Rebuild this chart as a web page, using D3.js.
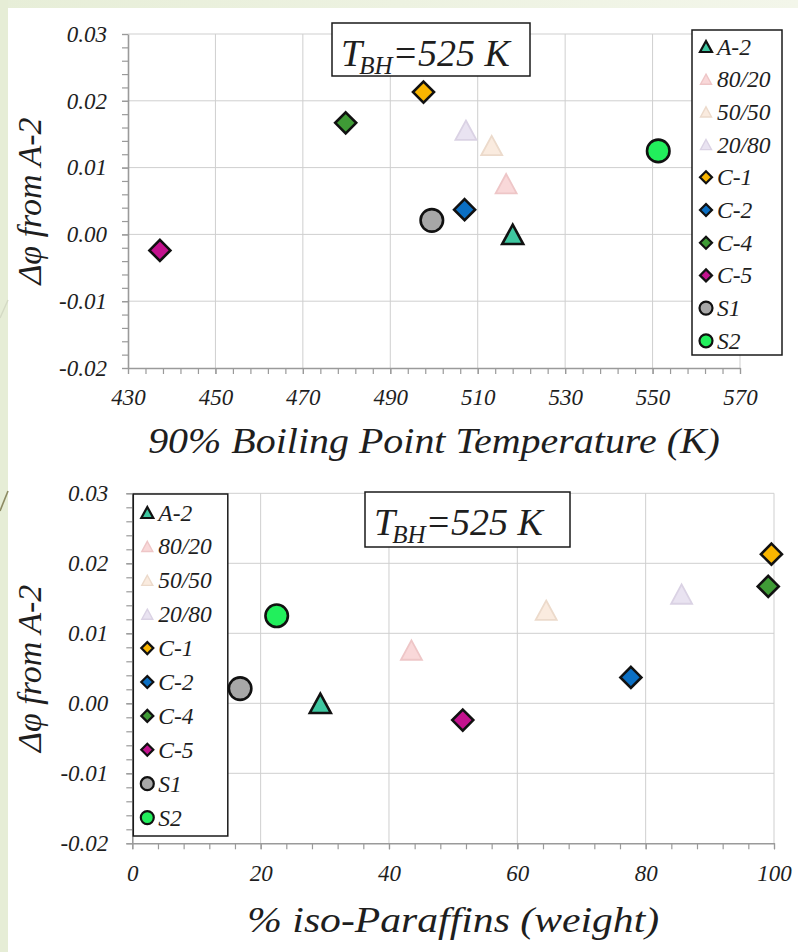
<!DOCTYPE html>
<html>
<head>
<meta charset="utf-8">
<script src="https://cdn.jsdelivr.net/npm/d3@7"></script>
<style>
  html, body { margin: 0; padding: 0; background: #ffffff; }
  svg { display: block; }
</style>
</head>
<body>
<svg id="fig" width="798" height="952"></svg>
<script>
// Fuel samples and their shift in equivalence ratio relative to A-2
const series = ["A-2", "80/20", "50/50", "20/80", "C-1", "C-2", "C-4", "C-5", "S1", "S2"];
const boilingT90 = [518, 516.5, 513.2, 507.3, 497.6, 507, 479.8, 437.3, 499.5, 551.3];   // K
const isoParaffins = [29.3, 43.5, 64.5, 85.6, 99.6, 77.7, 99.1, 51.5, 16.8, 22.5];       // % weight
const deltaPhi = [0.0, 0.0076, 0.0133, 0.0156, 0.0213, 0.0037, 0.0167, -0.0024, 0.0021, 0.0125];

const yTicks = [-0.02, -0.01, 0.00, 0.01, 0.02, 0.03];
const xTicksBoiling = [430, 450, 470, 490, 510, 530, 550, 570];
const xTicksIso = [0, 20, 40, 60, 80, 100];

const titleMain = "T", titleSub = "BH", titleRest = "=525 K";
const yTitle = "Δφ from A-2";
const xTitleBoiling = "90% Boiling Point Temperature (K)";
const xTitleIso = "% iso-Paraffins (weight)";

// Marker appearance per sample
const markerStyle = {
  "A-2":   { shape: "triangle", fill: "#3ec7a0", stroke: "#111111", faded: false },
  "80/20": { shape: "triangle", fill: "#f9d8d9", stroke: "#eec6c7", faded: true },
  "50/50": { shape: "triangle", fill: "#faebdf", stroke: "#ecdacb", faded: true },
  "20/80": { shape: "triangle", fill: "#e9e3f1", stroke: "#dad2e4", faded: true },
  "C-1":   { shape: "diamond",  fill: "#f9b500", stroke: "#111111", faded: false },
  "C-2":   { shape: "diamond",  fill: "#0b6fc3", stroke: "#111111", faded: false },
  "C-4":   { shape: "diamond",  fill: "#3f9b36", stroke: "#111111", faded: false },
  "C-5":   { shape: "diamond",  fill: "#c3128e", stroke: "#111111", faded: false },
  "S1":    { shape: "circle",   fill: "#a7a7a7", stroke: "#111111", faded: false },
  "S2":    { shape: "circle",   fill: "#22ef5c", stroke: "#111111", faded: false }
};

// Symbol types sized by their bounding width (size = width²), centred on the bounding box
const symTriangle = { draw(ctx, size) { const w = Math.sqrt(size), h = 0.92 * w;
  ctx.moveTo(0, -h / 2); ctx.lineTo(w / 2, h / 2); ctx.lineTo(-w / 2, h / 2); ctx.closePath(); } };
const symDiamond = { draw(ctx, size) { const s = Math.sqrt(size) / 2;
  ctx.moveTo(0, -s); ctx.lineTo(s, 0); ctx.lineTo(0, s); ctx.lineTo(-s, 0); ctx.closePath(); } };
const symCircle = { draw(ctx, size) { const r = Math.sqrt(size) / 2;
  ctx.moveTo(r, 0); ctx.arc(0, 0, r, 0, 2 * Math.PI); } };
const symbolTypes = { triangle: symTriangle, diamond: symDiamond, circle: symCircle };

// Italic serif text styling
function serif(sel, size) {
  return sel.style("font-family", '"Liberation Serif"')
     .style("font-style", "italic")
     .style("font-size", size + "px")
     .attr("fill", "#1e1e1e");
}

const svg = d3.select("#fig");

// Page backdrop: pale green border strips
const defs = svg.append("defs");
const grad = defs.append("linearGradient").attr("id", "topStrip").attr("x1", 0).attr("x2", 1).attr("y1", 0).attr("y2", 0);
grad.append("stop").attr("offset", "0%").attr("stop-color", "#e7eed8");
grad.append("stop").attr("offset", "100%").attr("stop-color", "#f3f6ea");
svg.append("rect").attr("x", 0).attr("y", 0).attr("width", 798).attr("height", 952).attr("fill", "#ffffff");
svg.append("rect").attr("x", 0).attr("y", 0).attr("width", 798).attr("height", 8).attr("fill", "url(#topStrip)");
svg.append("rect").attr("x", 0).attr("y", 0).attr("width", 8).attr("height", 952).attr("fill", "#e6edd6");
svg.append("line").attr("x1", 0).attr("y1", 511).attr("x2", 8).attr("y2", 491)
  .attr("stroke", "#8c8a62").attr("stroke-width", 1.6);
svg.append("line").attr("x1", 0).attr("y1", 318).attr("x2", 8).attr("y2", 300)
  .attr("stroke", "#d4dac4").attr("stroke-width", 1.4);

const fmtY = d => d3.format(".2f")(d).replace("−", "-");

function drawPanel(cfg) {
  const g = svg.append("g");
  const x = d3.scaleLinear().domain(cfg.xDomain).range([cfg.left, cfg.right]);
  const y = d3.scaleLinear().domain([-0.02, 0.03]).range([cfg.bottom, cfg.top]);

  // grid
  g.append("g").selectAll("line").data(cfg.xTicks.slice(1)).join("line")
    .attr("x1", d => x(d)).attr("x2", d => x(d)).attr("y1", cfg.top).attr("y2", cfg.bottom)
    .attr("stroke", "#cfcfcf").attr("stroke-width", 1);
  g.append("g").selectAll("line").data(yTicks.slice(1)).join("line")
    .attr("x1", cfg.left).attr("x2", cfg.right).attr("y1", d => y(d)).attr("y2", d => y(d))
    .attr("stroke", "#cfcfcf").attr("stroke-width", 1);

  // minor ticks
  const xMinor = d3.range(cfg.xDomain[0], cfg.xDomain[1] + 1e-9, cfg.xMinorStep);
  const yMinor = d3.range(-0.02, 0.0300001, 0.002);
  g.append("g").attr("transform", `translate(0,${cfg.bottom})`)
    .call(d3.axisBottom(x).tickValues(xMinor).tickSize(6).tickSizeOuter(0).tickFormat(""))
    .call(s => s.selectAll("line").attr("stroke", "#9a9a9a").attr("stroke-width", 1.2))
    .call(s => s.select(".domain").remove());
  g.append("g").attr("transform", `translate(${cfg.left},0)`)
    .call(d3.axisLeft(y).tickValues(yMinor).tickSize(6).tickSizeOuter(0).tickFormat(""))
    .call(s => s.selectAll("line").attr("stroke", "#9a9a9a").attr("stroke-width", 1.2))
    .call(s => s.select(".domain").remove());

  // major axes
  const xa = g.append("g").attr("transform", `translate(0,${cfg.bottom})`)
    .call(d3.axisBottom(x).tickValues(cfg.xTicks).tickSize(6).tickSizeOuter(0).tickPadding(15)
      .tickFormat(d3.format("d")));
  const ya = g.append("g").attr("transform", `translate(${cfg.left},0)`)
    .call(d3.axisLeft(y).tickValues(yTicks).tickSize(6).tickSizeOuter(0).tickPadding(cfg.yPad)
      .tickFormat(fmtY));
  [xa, ya].forEach(a => {
    a.attr("font-family", null).attr("font-size", null);
    a.select(".domain").attr("stroke", "#9a9a9a").attr("stroke-width", 1.6);
    a.selectAll(".tick line").attr("stroke", "#9a9a9a").attr("stroke-width", 1.2);
    serif(a.selectAll(".tick text"), 23);
  });

  // axis titles (x title stretched horizontally to its span)
  const xt = serif(g.append("text"), 35).attr("x", 0).attr("y", 0)
    .attr("text-anchor", "middle").text(cfg.xTitle);
  const natural = xt.node().getComputedTextLength();
  xt.attr("transform", `translate(${(cfg.left + cfg.right) / 2},${cfg.xTitleY}) scale(${cfg.xTitleWidth / natural},1)`);
  serif(g.append("text"), 34)
    .attr("transform", `translate(41,${(cfg.top + cfg.bottom) / 2}) rotate(-90)`)
    .attr("text-anchor", "middle")
    .text(yTitle);

  // title box
  const tb = g.append("g");
  tb.append("rect").attr("x", cfg.box[0]).attr("y", cfg.box[1]).attr("width", cfg.box[2]).attr("height", cfg.box[3])
    .attr("fill", "#ffffff").attr("stroke", "#1a1a1a").attr("stroke-width", 1.5);
  const tt = serif(tb.append("text"), 38).attr("x", cfg.box[0] + 9).attr("y", cfg.box[1] + 42.5);
  tt.append("tspan").style("font-size", "38px").text(titleMain);
  tt.append("tspan").style("font-size", "25px").attr("dy", 8).attr("dx", -3).text(titleSub);
  tt.append("tspan").style("font-size", "38px").attr("dy", -8).text(titleRest);

  function drawLegend() {
    const L = cfg.legend;
    const lg = g.append("g");
    lg.append("rect").attr("x", L.x).attr("y", L.y).attr("width", L.w).attr("height", L.h)
      .attr("fill", "#ffffff").attr("stroke", "#1a1a1a").attr("stroke-width", 1.5);
    series.forEach((name, i) => {
      const st = markerStyle[name];
      const cy = L.firstRow + i * L.rowStep;
      const w = st.shape === "circle" ? 13 : (st.faded ? 11 : 12);
      lg.append("path")
        .attr("d", d3.symbol().type(symbolTypes[st.shape]).size(w * w)())
        .attr("transform", `translate(${L.x + 14},${cy})`)
        .attr("fill", st.fill).attr("stroke", st.stroke).attr("stroke-width", st.faded ? 1.4 : 2.2);
      serif(lg.append("text"), 23.5).attr("x", L.x + 25).attr("y", cy + 8).text(name);
    });
  }
  if (cfg.legendFirst) drawLegend();

  // data points; faded triangles sit underneath the solid markers
  const pts = series.map((name, i) => ({ name, xv: cfg.xValues[i], yv: deltaPhi[i] }));
  const order = [1, 2, 3, 0, 4, 5, 6, 7, 8, 9];
  g.append("g").selectAll("path").data(order.map(i => pts[i])).join("path")
    .attr("d", d => {
      const st = markerStyle[d.name];
      const w = st.shape === "circle" ? 22.5 : 21;
      return d3.symbol().type(symbolTypes[st.shape]).size(w * w)();
    })
    .attr("transform", d => `translate(${x(d.xv)},${y(d.yv)})`)
    .attr("fill", d => markerStyle[d.name].fill)
    .attr("stroke", d => markerStyle[d.name].stroke)
    .attr("stroke-width", d => markerStyle[d.name].faded ? 1.8 : 2.6)
    .attr("stroke-linejoin", "miter");

  if (!cfg.legendFirst) drawLegend();
}

drawPanel({
  xDomain: [430, 570], xTicks: xTicksBoiling, xMinorStep: 4, xValues: boilingT90,
  left: 128, right: 740, top: 34, bottom: 368, yPad: 15,
  xTitle: xTitleBoiling, xTitleY: 453, xTitleWidth: 572,
  box: [332, 23, 198, 53],
  legend: { x: 692, y: 30, w: 90, h: 325, firstRow: 46.5, rowStep: 32.7 },
  legendFirst: false
});

drawPanel({
  xDomain: [0, 100], xTicks: xTicksIso, xMinorStep: 4, xValues: isoParaffins,
  left: 132.3, right: 774, top: 493.3, bottom: 843.3, yPad: 18,
  xTitle: xTitleIso, xTitleY: 932, xTitleWidth: 412,
  box: [365, 492, 205, 55],
  legend: { x: 133.3, y: 494, w: 94.5, h: 342, firstRow: 512.5, rowStep: 33.9 },
  legendFirst: true
});
</script>
</body>
</html>
